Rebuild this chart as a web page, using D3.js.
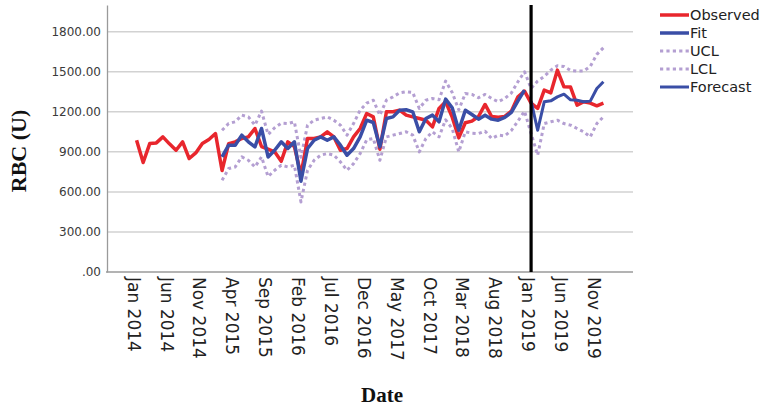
<!DOCTYPE html>
<html>
<head>
<meta charset="utf-8">
<script src="https://cdn.jsdelivr.net/npm/d3@7"></script>
<style>
  html, body { margin: 0; padding: 0; background: #fff; }
  svg { display: block; }
</style>
</head>
<body>
<svg id="chart" width="765" height="408"></svg>
<script>
// ---- Data (month index 0 = Jan 2014) ----
const observed = [987, 820, 962, 967, 1012, 960, 912, 975, 850, 892, 962, 992, 1037,
  760, 962, 975, 1000, 1012, 1075, 940, 920, 900, 830, 975, 940,
  730, 1000, 1000, 1012, 1050, 1012, 912, 925, 1012, 1075, 1187,
  1162, 920, 1200, 1200, 1212, 1175, 1162, 1150, 1137, 1087, 1225, 1275,
  1160, 1005, 1118, 1130, 1165, 1255, 1165, 1160, 1165, 1205, 1312, 1355,
  1265, 1225, 1362, 1342, 1512, 1387, 1385, 1250, 1275, 1265, 1245, 1265];
const fitStart = 13;
const fit = [862, 950, 950, 1025, 975, 937, 1075, 862, 912, 975, 925, 975,
  680, 925, 987, 1012, 987, 1012, 950, 875, 925, 1012, 1137,
  1120, 937, 1150, 1162, 1212, 1215, 1200, 1050, 1150, 1175, 1125, 1295,
  1230, 1062, 1212, 1180, 1145, 1175, 1145, 1137, 1158, 1195, 1282, 1362];
const forecastStart = 60;
const forecast = [1280, 1062, 1275, 1282, 1312, 1332, 1290, 1287, 1275, 1280, 1375, 1425];
const clStart = 13;
const ucl = [1062, 1112, 1125, 1175, 1162, 1100, 1205, 1030, 1080, 1115, 1112, 1125,
  860, 1100, 1137, 1150, 1162, 1137, 1100, 1025, 1112, 1212, 1265,
  1287, 1175, 1287, 1312, 1342, 1350, 1345, 1225, 1287, 1300, 1290, 1430,
  1345, 1215, 1337, 1330, 1305, 1330, 1300, 1275, 1300, 1340, 1425, 1500,
  1375, 1430, 1465, 1512, 1545, 1540, 1510, 1505, 1505, 1540, 1630, 1680];
const lcl = [687, 775, 787, 862, 837, 787, 862, 715, 762, 800, 787, 800,
  525, 762, 837, 875, 887, 875, 825, 762, 812, 887, 990,
  1000, 837, 1012, 1025, 1037, 1050, 1025, 900, 1000, 1050, 1012, 1140,
  1075, 900, 1050, 1040, 1037, 1055, 1000, 1025, 1020, 1060, 1130, 1205,
  1037, 875, 1112, 1125, 1137, 1112, 1100, 1075, 1050, 1012, 1112, 1162];
const xTickIdx = [0, 5, 10, 15, 20, 25, 30, 35, 40, 45, 50, 55, 60, 65, 70];
const xTickLabels = ["Jan 2014", "Jun 2014", "Nov 2014", "Apr 2015", "Sep 2015", "Feb 2016",
  "Jul 2016", "Dec 2016", "May 2017", "Oct 2017", "Mar 2018", "Aug 2018",
  "Jan 2019", "Jun 2019", "Nov 2019"];
const yTicks = [0, 300, 600, 900, 1200, 1500, 1800];
const legendItems = ["Observed", "Fit", "UCL", "LCL", "Forecast"];
const splitIdx = 60; // Jan 2019 vertical line

// ---- Layout ----
const svg = d3.select("#chart");
const pLeft = 107, pRight = 633, pTop = 5, pBottom = 272;
const x = d3.scaleLinear().domain([-4.5, 75.5]).range([pLeft, pRight]);
const y = d3.scaleLinear().domain([0, 2000]).range([pBottom, pTop]);

const RED = "#e8262d", BLUE = "#3a4ea6", LAV = "#b49fd2";

// gridlines
svg.append("g").selectAll("line").data(yTicks.filter(d => d > 0)).join("line")
  .attr("x1", pLeft).attr("x2", pRight)
  .attr("y1", d => y(d)).attr("y2", d => y(d))
  .attr("stroke", "#d2d2d2").attr("stroke-width", 1.5);

// y axis
const yAxis = d3.axisLeft(y).tickValues(yTicks).tickSize(0).tickPadding(6)
  .tickFormat(d => d === 0 ? ".00" : d.toFixed(2));
const gy = svg.append("g").attr("transform", `translate(${pLeft},0)`).call(yAxis);
gy.select(".domain").attr("stroke", "#9a9a9a").attr("stroke-width", 1.3);
gy.selectAll("text").attr("font-family", "DejaVu Sans").attr("font-size", 12).attr("fill", "#3a3a3a");

// x axis
const xAxis = d3.axisBottom(x).tickValues(xTickIdx).tickSize(0)
  .tickFormat((d, i) => xTickLabels[i]);
const gx = svg.append("g").attr("transform", `translate(0,${pBottom})`).call(xAxis);
gx.select(".domain").attr("stroke", "#9a9a9a").attr("stroke-width", 1.3)
  .attr("d", `M${pLeft - 1},0H${pRight}`);
gx.selectAll("text")
  .attr("font-family", "DejaVu Sans").attr("font-size", 17).attr("fill", "#222")
  .attr("text-anchor", "start")
  .attr("transform", "rotate(90)")
  .attr("x", 5).attr("y", 0).attr("dy", "0.55em");

// series helpers
const line = d3.line().x(d => x(d[0])).y(d => y(d[1]));
const pts = (arr, start) => arr.map((v, i) => [start + i, v]);

// control limits
[ucl, lcl].forEach(arr => {
  svg.append("path").datum(pts(arr, clStart)).attr("d", line)
    .attr("fill", "none").attr("stroke", LAV).attr("stroke-width", 3)
    .attr("stroke-dasharray", "3.2,3.2").attr("stroke-linejoin", "round");
});
// observed
svg.append("path").datum(pts(observed, 0)).attr("d", line)
  .attr("fill", "none").attr("stroke", RED).attr("stroke-width", 3.5).attr("stroke-linejoin", "round");
// fit
svg.append("path").datum(pts(fit, fitStart)).attr("d", line)
  .attr("fill", "none").attr("stroke", BLUE).attr("stroke-width", 3.5).attr("stroke-linejoin", "round");
// forecast
svg.append("path").datum(pts(forecast, forecastStart)).attr("d", line)
  .attr("fill", "none").attr("stroke", BLUE).attr("stroke-width", 3).attr("stroke-linejoin", "round");

// vertical split line
svg.append("line").attr("x1", x(splitIdx)).attr("x2", x(splitIdx))
  .attr("y1", pTop).attr("y2", pBottom).attr("stroke", "#000").attr("stroke-width", 3.2);

// axis titles
svg.append("text").attr("transform", "translate(26,151) rotate(-90)")
  .attr("text-anchor", "middle").attr("font-family", "Liberation Serif")
  .attr("font-weight", "bold").attr("font-size", 22).attr("fill", "#111").text("RBC (U)");
svg.append("text").attr("x", 382).attr("y", 402)
  .attr("text-anchor", "middle").attr("font-family", "Liberation Serif")
  .attr("font-weight", "bold").attr("font-size", 21).attr("fill", "#111").text("Date");

// legend
const legStyles = [
  { c: RED, w: 3.5, dash: null },
  { c: BLUE, w: 3.5, dash: null },
  { c: LAV, w: 3, dash: "3.2,3.2" },
  { c: LAV, w: 3, dash: "3.2,3.2" },
  { c: BLUE, w: 3, dash: null }
];
const lg = svg.append("g");
legendItems.forEach((name, i) => {
  const yy = 15 + i * 18;
  lg.append("line").attr("x1", 660).attr("x2", 689).attr("y1", yy).attr("y2", yy)
    .attr("stroke", legStyles[i].c).attr("stroke-width", legStyles[i].w)
    .attr("stroke-dasharray", legStyles[i].dash);
  lg.append("text").attr("x", 690).attr("y", yy).attr("dy", "0.36em")
    .attr("font-family", "DejaVu Sans").attr("font-size", 14.5).attr("fill", "#222").text(name);
});
</script>
</body>
</html>
